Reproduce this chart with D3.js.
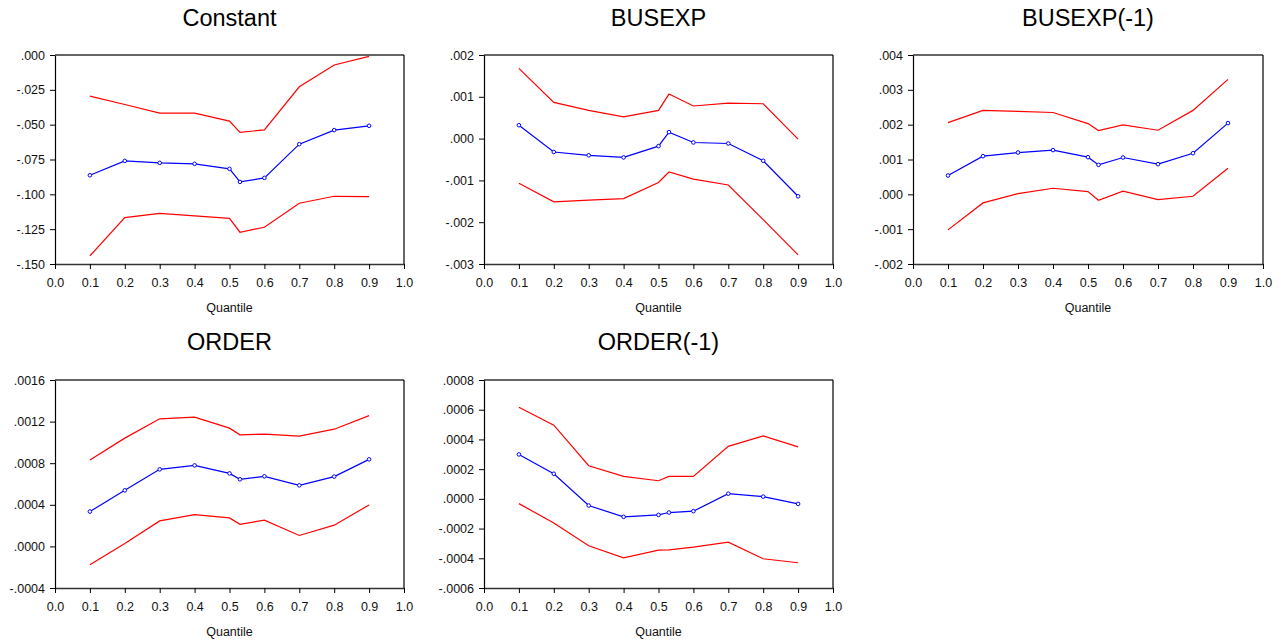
<!DOCTYPE html>
<html><head><meta charset="utf-8">
<script src="https://cdn.jsdelivr.net/npm/d3@7"></script>
<style>body{margin:0;background:#fff}svg{display:block}</style>
</head><body>
<svg id="c" width="1284" height="641"></svg>
<script>
const quantiles = [0.1,0.2,0.3,0.4,0.5,0.53,0.6,0.7,0.8,0.9];
const titles = ["Constant","BUSEXP","BUSEXP(-1)","ORDER","ORDER(-1)"];

const constEst = [-0.0863,-0.0760,-0.0774,-0.0781,-0.0817,-0.0911,-0.0882,-0.0640,-0.0539,-0.0508];
const constHi  = [-0.0295,-0.0355,-0.0417,-0.0417,-0.0474,-0.0556,-0.0537,-0.0228,-0.0072,-0.0010];
const constLo  = [-0.1442,-0.1167,-0.1136,-0.1155,-0.1172,-0.1272,-0.1236,-0.1064,-0.1014,-0.1016];

const busEst = [0.00032,-0.00032,-0.00040,-0.00045,-0.00018,0.000155,-0.000093,-0.000117,-0.00053,-0.00138];
const busHi  = [0.00168,0.000866,0.000674,0.00052,0.000674,0.001065,0.00078,0.00085,0.000834,-0.000013];
const busLo  = [-0.001067,-0.001514,-0.00147,-0.001434,-0.00105,-0.00080,-0.00097,-0.00111,-0.00194,-0.00278];

const bus1Est = [0.00054,0.001095,0.00120,0.00127,0.001067,0.000846,0.001057,0.000866,0.00118,0.002045];
const bus1Hi  = [0.00206,0.00241,0.00238,0.00235,0.00203,0.00183,0.001995,0.00184,0.00241,0.00330];
const bus1Lo  = [-0.00102,-0.000246,0.000022,0.000175,0.00008,-0.00017,0.000089,-0.00015,-0.000055,0.00075];

const ordEst = [0.000335,0.000539,0.000741,0.000779,0.000702,0.000645,0.000674,0.000587,0.000671,0.000837];
const ordHi  = [0.000830,0.001041,0.001227,0.001243,0.001137,0.001073,0.00108,0.00106,0.001127,0.001258];
const ordLo  = [-0.000176,0.000028,0.000245,0.000306,0.000274,0.000213,0.000252,0.000105,0.000204,0.000399];

const ord1Est = [0.000299,0.000169,-0.000045,-0.000121,-0.000108,-0.000092,-0.000083,0.000035,0.000015,-0.000034];
const ord1Hi  = [0.000617,0.000496,0.000223,0.000151,0.000122,0.000151,0.000151,0.000353,0.000424,0.00035];
const ord1Lo  = [-0.000032,-0.000162,-0.000316,-0.000397,-0.000345,-0.000343,-0.000325,-0.000291,-0.000403,-0.000430];

const xTicks = [0,0.1,0.2,0.3,0.4,0.5,0.6,0.7,0.8,0.9,1.0];
const yTicksConst = [0,-0.025,-0.05,-0.075,-0.1,-0.125,-0.15];
const yLabelsConst = [".000","-.025","-.050","-.075","-.100","-.125","-.150"];
const yTicksBus = [0.002,0.001,0,-0.001,-0.002,-0.003];
const yLabelsBus = [".002",".001",".000","-.001","-.002","-.003"];
const yTicksBus1 = [0.004,0.003,0.002,0.001,0,-0.001,-0.002];
const yLabelsBus1 = [".004",".003",".002",".001",".000","-.001","-.002"];
const yTicksOrd = [0.0016,0.0012,0.0008,0.0004,0,-0.0004];
const yLabelsOrd = [".0016",".0012",".0008",".0004",".0000","-.0004"];
const yTicksOrd1 = [0.0008,0.0006,0.0004,0.0002,0,-0.0002,-0.0004,-0.0006];
const yLabelsOrd1 = [".0008",".0006",".0004",".0002",".0000","-.0002","-.0004","-.0006"];

const panels = [
  {title:titles[0], est:constEst, hi:constHi, lo:constLo, yt:yTicksConst, yl:yLabelsConst, dom:[-0.15,0], x0:55, x1:404, y0:55, y1:264, ty:18},
  {title:titles[1], est:busEst, hi:busHi, lo:busLo, yt:yTicksBus, yl:yLabelsBus, dom:[-0.003,0.002], x0:484, x1:833, y0:55, y1:264, ty:18},
  {title:titles[2], est:bus1Est, hi:bus1Hi, lo:bus1Lo, yt:yTicksBus1, yl:yLabelsBus1, dom:[-0.002,0.004], x0:913, x1:1263, y0:55, y1:264, ty:18},
  {title:titles[3], est:ordEst, hi:ordHi, lo:ordLo, yt:yTicksOrd, yl:yLabelsOrd, dom:[-0.0004,0.0016], x0:55, x1:404, y0:380, y1:588, ty:342},
  {title:titles[4], est:ord1Est, hi:ord1Hi, lo:ord1Lo, yt:yTicksOrd1, yl:yLabelsOrd1, dom:[-0.0006,0.0008], x0:484, x1:833, y0:380, y1:588, ty:342}
];

const svg = d3.select("#c");
const font = "Arial, 'Liberation Sans', sans-serif";

panels.forEach(p => {
  const g = svg.append("g");
  const x = d3.scaleLinear().domain([0,1]).range([p.x0,p.x1]);
  const y = d3.scaleLinear().domain(p.dom).range([p.y1,p.y0]);

  g.append("text").attr("x",(p.x0+p.x1)/2).attr("y",p.ty).attr("dy","0.36em")
    .attr("text-anchor","middle").attr("font-family",font).attr("font-size",23.5).attr("fill","#000").text(p.title);

  g.append("line").attr("x1",p.x0).attr("x2",p.x1).attr("y1",p.y0).attr("y2",p.y0).attr("stroke","#333").attr("stroke-width",1.6);
  g.append("line").attr("x1",p.x1).attr("x2",p.x1).attr("y1",p.y0).attr("y2",p.y1).attr("stroke","#000").attr("stroke-width",1.2);

  const xa = g.append("g").attr("transform",`translate(0,${p.y1})`)
    .call(d3.axisBottom(x).tickValues(xTicks).tickFormat(d3.format(".1f")).tickSize(5).tickSizeOuter(0));
  xa.select(".domain").attr("stroke","#333").attr("stroke-width",1.6);
  xa.selectAll(".tick line").attr("stroke","#000");
  xa.selectAll("text").attr("font-family",font).attr("font-size",12.5).attr("fill","#111").attr("y",8).attr("dy","1.16em");

  const ya = g.append("g").attr("transform",`translate(${p.x0},0)`)
    .call(d3.axisLeft(y).tickValues(p.yt).tickFormat((d,i)=>p.yl[i]).tickSize(5).tickSizeOuter(0));
  ya.select(".domain").attr("stroke","#000").attr("stroke-width",1.2);
  ya.selectAll(".tick line").attr("stroke","#000");
  ya.selectAll("text").attr("font-family",font).attr("font-size",12.5).attr("fill","#111").attr("x",-10);

  g.append("text").attr("x",(p.x0+p.x1)/2).attr("y",p.y1+43).attr("dy","0.36em")
    .attr("text-anchor","middle").attr("font-family",font).attr("font-size",12.5).attr("fill","#111").text("Quantile");

  const line = d3.line().x((d,i)=>x(quantiles[i])).y(d=>y(d));
  [p.hi,p.lo].forEach(s => g.append("path").datum(s).attr("d",line).attr("fill","none").attr("stroke","#ff0000").attr("stroke-width",1.2));
  g.append("path").datum(p.est).attr("d",line).attr("fill","none").attr("stroke","#0000ff").attr("stroke-width",1.2);
  g.selectAll("circle.m").data(p.est).enter().append("circle")
    .attr("cx",(d,i)=>x(quantiles[i])).attr("cy",d=>y(d)).attr("r",1.8)
    .attr("fill","#fff").attr("stroke","#0000ff").attr("stroke-width",1);
});
</script>
</body></html>
